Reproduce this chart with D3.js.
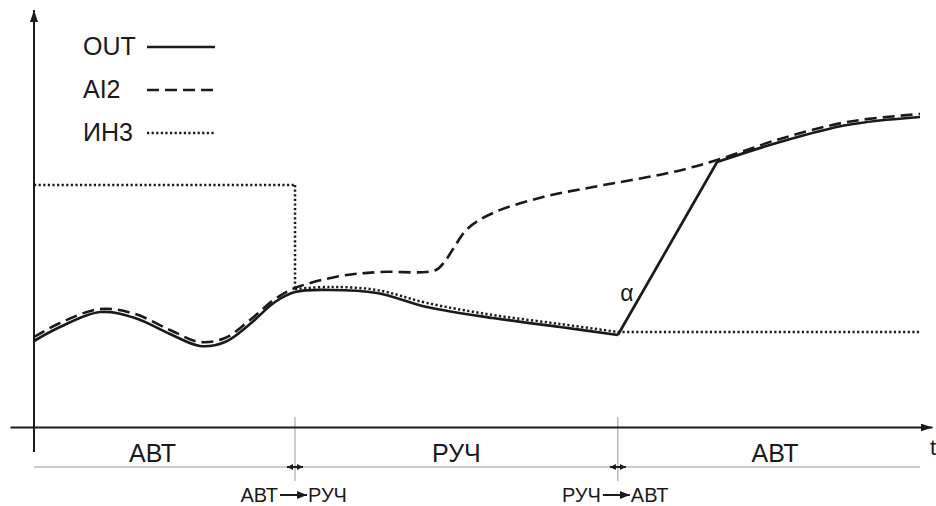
<!DOCTYPE html>
<html><head><meta charset="utf-8">
<script src="https://cdn.jsdelivr.net/npm/d3@7"></script>
<style>
html,body{margin:0;padding:0;background:#fff;}
svg{display:block;font-family:"Liberation Sans",Arial,sans-serif;}
</style></head>
<body>
<svg id="chart" width="936" height="506"></svg>
<script>
// ---- data (time, value %) ----
const seriesNames = ["OUT", "AI2", "ИН3"];
const outData = [[0,21.5],[2.93,25],[7.45,28.75],[11.4,27.25],[15.35,23.25],[18.74,20.25],[21.56,21.25],[24.38,25.75],[27.2,31.25],[29.46,33.75],[33.4,34.25],[38.7,33.5],[44.36,30],[51.8,27.25],[59.37,25],[65.9,23],[77.1,66.25],[84.2,71.25],[91.76,75.5],[100,77.5]];
const outCorners = [15, 16];
const ai2Data = [[0,22.5],[2.93,26],[7.45,29.5],[11.4,28.25],[15.35,24.25],[18.74,21.25],[21.56,22.25],[24.38,26.75],[27.2,32],[29.46,34.75],[34.54,37.75],[39.05,38.75],[45.3,39.2],[46.4,41.5],[47.3,44.5],[48.9,49.5],[51.8,53.5],[57.45,57.5],[63.1,60],[72.1,63.75],[77.1,66.75],[84.2,72],[91.76,76.25],[100,78.25]];
const ai2Corners = [];
const inzData = [[0,60.5],[29.46,60.5],[29.46,34.5],[33.4,35],[38.7,34.25],[44.36,31],[51.8,28],[59.37,25.75],[65.9,23.75],[100,23.75]];
const inzCorners = [1, 2, 8];
const switchTimes = [29.46, 65.9];
const modeLabels = ["АВТ", "РУЧ", "АВТ"];
const transitionLabels = [["АВТ", "РУЧ"], ["РУЧ", "АВТ"]];
const axisLabelX = "t";
const angleLabel = "α";

// ---- layout ----
const svg = d3.select("#chart");
const x = d3.scaleLinear().domain([0, 100]).range([34, 920]);
const y = d3.scaleLinear().domain([0, 100]).range([427, 27]);
const axisLeftEnd = 10, axisRightEnd = 932, yAxisTop = 10, yAxisBottom = 452;
const ink = "#1a1a1a", grey = "#9a9a9a";

const defs = svg.append("defs");
defs.append("marker").attr("id","arr").attr("viewBox","0 0 12 8").attr("refX",12).attr("refY",4)
  .attr("markerWidth",12).attr("markerHeight",8).attr("markerUnits","userSpaceOnUse").attr("orient","auto")
  .append("path").attr("d","M0,0 L12,4 L0,8 Z").attr("fill",ink);
defs.append("marker").attr("id","sarr").attr("viewBox","0 0 6 6").attr("refX",6).attr("refY",3)
  .attr("markerWidth",6).attr("markerHeight",6).attr("markerUnits","userSpaceOnUse").attr("orient","auto")
  .append("path").attr("d","M0,0 L6,3 L0,6 Z").attr("fill",ink);
defs.append("marker").attr("id","tarr").attr("viewBox","0 0 10 8").attr("refX",10).attr("refY",4)
  .attr("markerWidth",10).attr("markerHeight",8).attr("markerUnits","userSpaceOnUse").attr("orient","auto")
  .append("path").attr("d","M0,0 L10,4 L0,8 Z").attr("fill",ink);

// grey helper lines
svg.append("line").attr("x1", x(0)).attr("x2", 920).attr("y1", 467).attr("y2", 467)
  .attr("stroke", grey).attr("stroke-width", 1);
switchTimes.forEach(t => {
  svg.append("line").attr("x1", x(t)).attr("x2", x(t)).attr("y1", 417).attr("y2", 481)
    .attr("stroke", grey).attr("stroke-width", 1);
  svg.append("line").attr("x1", x(t)).attr("x2", x(t) - 8).attr("y1", 467).attr("y2", 467)
    .attr("stroke", ink).attr("stroke-width", 2).attr("marker-end", "url(#sarr)");
  svg.append("line").attr("x1", x(t)).attr("x2", x(t) + 8).attr("y1", 467).attr("y2", 467)
    .attr("stroke", ink).attr("stroke-width", 2).attr("marker-end", "url(#sarr)");
});

// axes (no ticks), using D3 axes
const xAxisScale = d3.scaleLinear().domain([x.invert(axisLeftEnd), x.invert(axisRightEnd)]).range([axisLeftEnd, axisRightEnd]);
const gx = svg.append("g").attr("transform", `translate(0,${y(0)})`)
  .call(d3.axisBottom(xAxisScale).tickValues([]).tickSizeOuter(0));
gx.select(".domain").attr("stroke", ink).attr("stroke-width", 2).attr("marker-end", "url(#arr)");
const yAxisScale = d3.scaleLinear().domain([y.invert(yAxisBottom), y.invert(yAxisTop)]).range([yAxisBottom, yAxisTop]);
const gy = svg.append("g").attr("transform", `translate(${x(0)},0)`)
  .call(d3.axisLeft(yAxisScale).tickValues([]).tickSizeOuter(0));
gy.select(".domain").attr("stroke", ink).attr("stroke-width", 2).attr("d", `M0,${yAxisBottom}V${yAxisTop}`).attr("marker-end", "url(#arr)");

svg.append("text").attr("x", 930).attr("y", 455).attr("font-size", 22).attr("fill", ink).text(axisLabelX);

// series
function pieces(data, corners) {
  const cuts = [0, ...corners, data.length - 1];
  const out = [];
  for (let i = 0; i < cuts.length - 1; i++) out.push(data.slice(cuts[i], cuts[i + 1] + 1));
  return out;
}
const smooth = d3.line().x(d => x(d[0])).y(d => y(d[1])).curve(d3.curveCatmullRom.alpha(0.5));
const straight = d3.line().x(d => x(d[0])).y(d => y(d[1]));
function drawSeries(data, corners, style) {
  const path = pieces(data, corners).map(p => (p.length > 2 ? smooth(p) : straight(p))).join("");
  svg.append("path").attr("d", path).attr("fill", "none").attr("stroke", ink)
    .attr("stroke-width", style.w).attr("stroke-dasharray", style.dash).attr("stroke-linejoin", "round");
}
const styles = [{w: 2.7, dash: null}, {w: 2.6, dash: "12,6"}, {w: 2.5, dash: "2.2,2.4"}];
drawSeries(inzData, inzCorners, styles[2]);
drawSeries(ai2Data, ai2Corners, styles[1]);
drawSeries(outData, outCorners, styles[0]);

// angle label
svg.append("text").attr("x", 627).attr("y", 301).attr("text-anchor", "middle").attr("font-size", 23).attr("fill", ink).text(angleLabel);

// legend
seriesNames.forEach((name, i) => {
  const by = 55 + i * 43;
  svg.append("text").attr("x", 83).attr("y", by).attr("font-size", 25).attr("fill", ink).text(name);
  svg.append("line").attr("x1", 147).attr("x2", 215).attr("y1", by - 8).attr("y2", by - 8)
    .attr("stroke", ink).attr("stroke-width", styles[i].w).attr("stroke-dasharray", styles[i].dash);
});

// mode labels
const bounds = [axisLeftEnd, ...switchTimes.map(x), axisRightEnd];
modeLabels.forEach((m, i) => {
  svg.append("text").attr("x", (bounds[i] + bounds[i + 1]) / 2).attr("y", 462)
    .attr("text-anchor", "middle").attr("font-size", 25).attr("fill", ink).text(m);
});

// transition labels
switchTimes.forEach((t, i) => {
  const cx = x(t);
  svg.append("text").attr("x", cx - 17).attr("y", 502).attr("text-anchor", "end").attr("font-size", 20).attr("fill", ink).text(transitionLabels[i][0]);
  svg.append("line").attr("x1", cx - 15).attr("x2", cx + 12).attr("y1", 495).attr("y2", 495)
    .attr("stroke", ink).attr("stroke-width", 2).attr("marker-end", "url(#tarr)");
  svg.append("text").attr("x", cx + 13).attr("y", 502).attr("text-anchor", "start").attr("font-size", 20).attr("fill", ink).text(transitionLabels[i][1]);
});
</script>
</body></html>
